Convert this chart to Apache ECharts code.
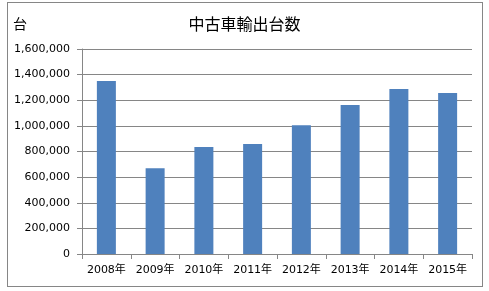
<!DOCTYPE html>
<html><head><meta charset="utf-8">
<script src="https://cdn.jsdelivr.net/npm/echarts@6/dist/echarts.min.js"></script>
<style>html,body{margin:0;padding:0;background:#fff}#c{width:489px;height:291px}
#frame{position:absolute;left:7px;top:2px;width:476px;height:285px;border:1px solid #868686;box-sizing:border-box;pointer-events:none}</style>
</head><body><div id="c"></div><div id="frame"></div>
<script>
const title = '中古車輸出台数';
const unitLabel = '台';
const categories = ['2008年','2009年','2010年','2011年','2012年','2013年','2014年','2015年'];
const exports = [1350000, 669000, 835000, 858000, 1004000, 1163000, 1288000, 1257000];
const yMax = 1600000, yStep = 200000;

const chart = echarts.init(document.getElementById('c'));
const latin = '"DejaVu Sans", "Noto Sans CJK JP", sans-serif';
chart.setOption({
  animation: false,
  backgroundColor: '#fff',
  title: { text: title, left: 'center', top: 11, textStyle: { fontFamily: '"Noto Sans CJK JP", sans-serif', fontWeight: 'normal', fontSize: 16, color: '#000' } },
  grid: { left: 82, right: 17, top: 49, bottom: 37, containLabel: false },
  xAxis: {
    type: 'category', data: categories,
    axisLine: { lineStyle: { color: '#868686' } },
    axisTick: { show: true, alignWithLabel: false, length: 5, lineStyle: { color: '#868686' } },
    axisLabel: { color: '#000', fontSize: 11, fontFamily: latin, margin: 11, interval: 0 }
  },
  yAxis: {
    type: 'value', min: 0, max: yMax, interval: yStep,
    name: unitLabel, nameLocation: 'end', nameGap: 0,
    nameTextStyle: { fontFamily: '"Noto Sans CJK JP", sans-serif', fontSize: 14, color: '#000', align: 'left', padding: [0, 0, 18, -69] },
    axisLine: { show: true, lineStyle: { color: '#868686' } },
    axisTick: { show: true, length: 5, lineStyle: { color: '#868686' } },
    splitLine: { lineStyle: { color: '#868686' } },
    axisLabel: { color: '#000', fontSize: 11, fontFamily: latin, margin: 12,
      formatter: v => v.toLocaleString('en-US') }
  },
  series: [{ type: 'bar', data: exports, barWidth: 19, itemStyle: { color: '#4f81bd' } }]
});
</script></body></html>
